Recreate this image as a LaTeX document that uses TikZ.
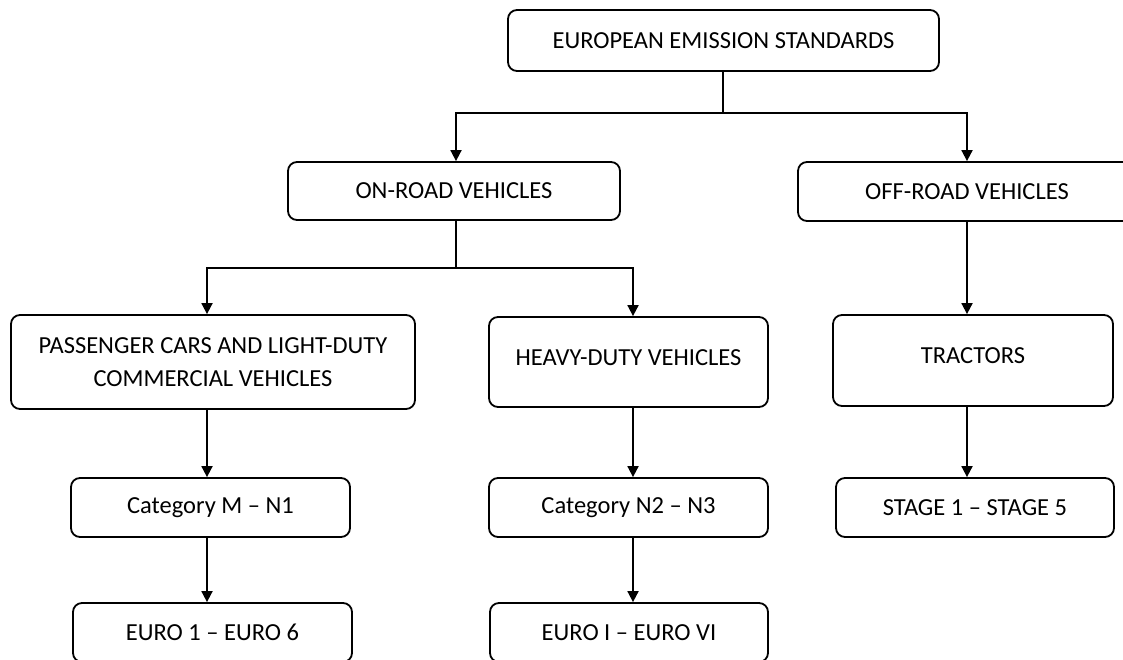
\documentclass[tikz,border=0pt]{standalone}
\usepackage{fontspec}
\setmainfont{Carlito}
\usetikzlibrary{arrows.meta}
\tikzset{
  box/.style={draw=black, line width=1.8pt, rounded corners=9pt, fill=white,
    inner sep=0pt, align=center, font=\fontsize{24.5}{33}\selectfont},
  conn/.style={line width=1.8pt, draw=black},
  arr/.style={conn, -{Triangle[width=11pt,length=11pt]}}
}
\begin{document}
\begin{tikzpicture}[x=1pt,y=-1pt]
\useasboundingbox (0,0) rectangle (1123,659);
\clip (0,0) rectangle (1123,659);
\node[box, minimum width=431pt, minimum height=61pt] (top) at (723.5,40.5) {EUROPEAN EMISSION STANDARDS};
\node[box, minimum width=332pt, minimum height=58pt] (on) at (454,191) {ON-ROAD VEHICLES};
\node[box, minimum width=338pt, minimum height=59pt] (off) at (967,191.5) {OFF-ROAD VEHICLES};
\node[box, minimum width=404pt, minimum height=94pt] (pass) at (213,362) {PASSENGER CARS AND LIGHT-DUTY\\COMMERCIAL VEHICLES};
\node[box, minimum width=279pt, minimum height=90pt] (heavy) at (628.5,362) {\raisebox{9pt}{HEAVY-DUTY VEHICLES}};
\node[box, minimum width=280pt, minimum height=91pt] (tract) at (973,360.5) {\raisebox{9pt}{TRACTORS}};
\node[box, minimum width=279pt, minimum height=59pt] (catm) at (210.5,507.5) {Category M – N1};
\node[box, minimum width=279pt, minimum height=59pt] (catn) at (628.5,507.5) {Category N2 – N3};
\node[box, minimum width=278pt, minimum height=59pt] (stage) at (975,507.5) {STAGE 1 – STAGE 5};
\node[box, minimum width=279pt, minimum height=59pt] (euro1) at (212.5,632.5) {EURO 1 – EURO 6};
\node[box, minimum width=278pt, minimum height=59pt] (euroI) at (629,632.5) {EURO I – EURO VI};
% junction coordinates
\coordinate (j1) at (723,113);
\coordinate (j2) at (456,268);
\coordinate (c1) at (207,0);
\coordinate (c2) at (633,0);
\coordinate (c3) at (967,0);
% top level
\draw[conn] (top.south -| j1) -- (j1);
\draw[arr] (j1) -| (on.north -| j2);
\draw[arr] (j1) -| (off.north -| c3);
% on-road
\draw[conn] (on.south -| j2) -- (j2);
\draw[arr] (j2) -| (pass.north -| c1);
\draw[arr] (j2) -| (heavy.north -| c2);
% columns
\draw[arr] (pass.south -| c1) -- (catm.north -| c1);
\draw[arr] (catm.south -| c1) -- (euro1.north -| c1);
\draw[arr] (heavy.south -| c2) -- (catn.north -| c2);
\draw[arr] (catn.south -| c2) -- (euroI.north -| c2);
\draw[arr] (off.south -| c3) -- (tract.north -| c3);
\draw[arr] (tract.south -| c3) -- (stage.north -| c3);
\end{tikzpicture}
\end{document}
